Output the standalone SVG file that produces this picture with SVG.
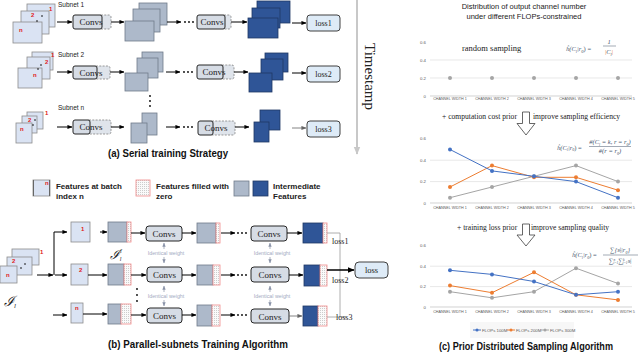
<svg xmlns="http://www.w3.org/2000/svg" width="640" height="354" viewBox="0 0 640 354">
<defs>
<marker id="ah" viewBox="0 0 6 6" refX="5.5" refY="3" markerWidth="5" markerHeight="5" orient="auto" markerUnits="userSpaceOnUse"><path d="M0,0.5 L6,3 L0,5.5z" fill="#000"/></marker>
<marker id="ahg" viewBox="0 0 6 6" refX="5.5" refY="3" markerWidth="5" markerHeight="5" orient="auto" markerUnits="userSpaceOnUse"><path d="M0,0.5 L6,3 L0,5.5z" fill="#666"/></marker>
<marker id="ahb" viewBox="0 0 6 6" refX="5.5" refY="3" markerWidth="7" markerHeight="7" orient="auto" markerUnits="userSpaceOnUse"><path d="M0,0.5 L6,3 L0,5.5z" fill="#000"/></marker>
<marker id="ahiw" viewBox="0 0 6 6" refX="5.5" refY="3" markerWidth="4" markerHeight="4" orient="auto" markerUnits="userSpaceOnUse"><path d="M0,0.5 L6,3 L0,5.5z" fill="#8a93a8"/></marker>
<marker id="aht" viewBox="0 0 6 6" refX="5.5" refY="3" markerWidth="8" markerHeight="8" orient="auto" markerUnits="userSpaceOnUse"><path d="M0,0.5 L6,3 L0,5.5z" fill="#c8c8c8"/></marker>
<pattern id="hatch" width="2" height="2" patternUnits="userSpaceOnUse"><rect width="2" height="2" fill="#fafafa"/><rect width="1" height="1" fill="#cdcdcd"/></pattern>
<style>
.in{fill:#dae3f3;stroke:#8c8c8c;stroke-width:0.8}
.gf{fill:#adb9ca;stroke:#6f7a8a;stroke-width:0.8}
.bf{fill:#2f5597;stroke:#1f3864;stroke-width:0.8}
.cv{fill:#d6dce5;stroke:#262626;stroke-width:1}
.cvd{fill:#dfe4eb;stroke:#808080;stroke-width:0.8;stroke-dasharray:2 1.3}
.ls{fill:#deebf7;stroke:#404040;stroke-width:1}
.zr{fill:url(#hatch);stroke:#f08a8a;stroke-width:0.8}
.ar{stroke:#000;stroke-width:1;fill:none;marker-end:url(#ah)}
.arg{stroke:#666;stroke-width:0.8;fill:none;marker-end:url(#ahg)}
.dot{fill:#000}
.rd{font-family:"Liberation Sans",Arial,sans-serif;font-size:6px;font-weight:bold;fill:#e02020}
.sr{font-family:"Liberation Serif","Times New Roman",serif;fill:#222}
.ss{font-family:"Liberation Sans",Arial,sans-serif;fill:#222}
.cap{font-family:"Liberation Sans",Arial,sans-serif;font-weight:bold;font-size:10px;fill:#111}
.lg{font-family:"Liberation Sans",Arial,sans-serif;font-weight:bold;font-size:8px;fill:#222}
.iw{font-family:"Liberation Sans",Arial,sans-serif;font-size:5.3px;fill:#a3abc2}
.ax{font-family:"Liberation Sans",Arial,sans-serif;font-size:4.3px;fill:#595959}
.cat{font-family:"Liberation Sans",Arial,sans-serif;font-size:3.7px;fill:#595959}
.fm{font-family:"Liberation Serif","Times New Roman",serif;font-style:italic;font-size:6.5px;fill:#44546a}
.gr{stroke:#d9d9d9;stroke-width:0.6}
.axl{stroke:#bfbfbf;stroke-width:0.7}
.sb{stroke:#4472c4;stroke-width:1;fill:none}
.so{stroke:#ed7d31;stroke-width:1;fill:none}
.sg{stroke:#a5a5a5;stroke-width:1;fill:none}
</style>
</defs>
<rect width="640" height="354" fill="#fff"/>

<!-- ===== (a) Serial training ===== -->
<g id="a-subnet1-input">
<rect class="in" x="27" y="4" width="28" height="23"/>
<rect class="in" x="21" y="11" width="28" height="23"/>
<rect class="in" x="13" y="22" width="29" height="21"/>
<text class="rd" x="49" y="11">1</text><text class="rd" x="31" y="17">2</text><text class="rd" x="19" y="32">n</text>
<circle class="dot" cx="42" cy="16" r="0.8"/><circle class="dot" cx="37" cy="21" r="0.8"/>
<text class="ss" x="58" y="7" font-size="6.5">Subnet 1</text>
</g>
<g id="a-subnet1-conv1"><rect class="cvd" x="99" y="15" width="12" height="14" rx="2"/><rect class="cv" x="73" y="15" width="29" height="14" rx="2"/><text class="sr" x="91" y="25" font-size="9" text-anchor="middle">Convs</text></g>
<g id="a-subnet1-feat"><rect class="gf" x="139" y="3" width="28" height="22"/><rect class="gf" x="133" y="9" width="27" height="23"/><rect class="gf" x="125" y="21" width="29" height="20"/></g>
<g id="a-subnet1-conv2"><rect class="cvd" x="222" y="15" width="9" height="14" rx="2"/><rect class="cv" x="197" y="15" width="28" height="14" rx="2"/><text class="sr" x="212" y="25" font-size="9" text-anchor="middle">Convs</text></g>
<g id="a-subnet1-out"><rect class="bf" x="257" y="1" width="33" height="22"/><rect class="bf" x="252" y="8" width="28" height="20"/><rect class="bf" x="248" y="18" width="30" height="20"/></g>
<g id="a-loss1"><rect class="ls" x="307" y="15" width="33" height="16" rx="3"/><text class="sr" x="323.5" y="26" font-size="8" text-anchor="middle">loss1</text></g>

<g id="a-subnet2-input">
<rect class="in" x="32" y="52" width="21" height="18"/>
<rect class="in" x="27" y="57" width="23" height="22"/>
<rect class="in" x="18" y="68" width="24" height="20"/>
<text class="rd" x="51" y="57">1</text><text class="rd" x="45" y="64">2</text><text class="rd" x="33" y="77">n</text>
<circle class="dot" cx="41" cy="65" r="0.8"/><circle class="dot" cx="38" cy="69" r="0.8"/>
<text class="ss" x="58" y="57" font-size="6.5">Subnet 2</text>
</g>
<g id="a-subnet2-conv1"><rect class="cvd" x="94" y="66" width="16" height="13" rx="2"/><rect class="cv" x="73" y="66" width="24" height="13" rx="2"/><text class="sr" x="91" y="75.5" font-size="9" text-anchor="middle">Convs</text></g>
<g id="a-subnet2-feat"><rect class="gf" x="142" y="52" width="21" height="20"/><rect class="gf" x="137" y="58" width="21" height="20"/><rect class="gf" x="125" y="73" width="23" height="18"/></g>
<g id="a-subnet2-conv2"><rect class="cvd" x="220" y="65" width="14" height="14" rx="2"/><rect class="cv" x="197" y="65" width="26" height="14" rx="2"/><text class="sr" x="214" y="75" font-size="9" text-anchor="middle">Convs</text></g>
<g id="a-subnet2-out"><rect class="bf" x="265" y="53" width="23" height="19"/><rect class="bf" x="261" y="59" width="22" height="21"/><rect class="bf" x="249" y="73" width="23" height="19"/></g>
<g id="a-loss2"><rect class="ls" x="307" y="66" width="33" height="16" rx="3"/><text class="sr" x="323.5" y="77" font-size="8" text-anchor="middle">loss2</text></g>

<g id="a-vdots"><circle class="dot" cx="150" cy="96" r="0.9"/><circle class="dot" cx="150" cy="101" r="0.9"/><circle class="dot" cx="150" cy="106" r="0.9"/></g>

<g id="a-subnetn-input">
<rect class="in" x="27" y="112" width="16" height="17"/>
<rect class="in" x="22" y="116" width="15" height="17"/>
<rect class="in" x="16" y="123" width="16" height="20"/>
<text class="rd" x="45" y="115">1</text><text class="rd" x="28" y="122">2</text><text class="rd" x="20" y="131">n</text>
<circle class="dot" cx="35" cy="120" r="0.8"/><circle class="dot" cx="33" cy="125" r="0.8"/>
<text class="ss" x="58" y="110" font-size="6.5">Subnet n</text>
</g>
<g id="a-subnetn-conv1"><rect class="cvd" x="87" y="120" width="24" height="14" rx="2"/><rect class="cv" x="73" y="120" width="17" height="14" rx="2"/><text class="sr" x="91" y="130" font-size="9" text-anchor="middle">Convs</text></g>
<g id="a-subnetn-feat"><rect class="gf" x="142" y="113" width="15" height="22"/><rect class="gf" x="131" y="123" width="16" height="20"/></g>
<g id="a-subnetn-conv2"><rect class="cvd" x="210" y="121" width="25" height="14" rx="2"/><rect class="cv" x="198" y="121" width="15" height="14" rx="2"/><text class="sr" x="216" y="131" font-size="9" text-anchor="middle">Convs</text></g>
<g id="a-subnetn-out"><rect class="bf" x="260" y="110" width="20" height="20"/><rect class="bf" x="254" y="122" width="15" height="20"/></g>
<g id="a-loss3"><rect class="ls" x="307" y="121" width="33" height="16" rx="3"/><text class="sr" x="323.5" y="132" font-size="8" text-anchor="middle">loss3</text></g>

<g id="a-timestamp">
<line x1="357" y1="0" x2="357" y2="154" stroke="#c8c8c8" stroke-width="2" marker-end="url(#aht)"/>
<text class="sr" transform="translate(365,43) rotate(90)" font-size="15" fill="#333">Timestamp</text>
</g>

<g id="a-connectors">
<line class="ar" x1="57" y1="22" x2="72" y2="22"/><line class="ar" x1="111" y1="22" x2="124" y2="22"/><line class="ar" x1="167" y1="22" x2="181" y2="22"/>
<line class="ar" x1="231" y1="22" x2="247" y2="22"/><line class="ar" x1="292" y1="23" x2="306" y2="23"/>
<line class="ar" x1="57" y1="72" x2="72" y2="72"/><line class="ar" x1="110" y1="72" x2="124" y2="72"/><line class="ar" x1="166" y1="72" x2="180" y2="72"/>
<line class="ar" x1="234" y1="72" x2="248" y2="72"/><line class="ar" x1="292" y1="73" x2="306" y2="73"/>
<line class="ar" x1="57" y1="127" x2="72" y2="127"/><line class="ar" x1="111" y1="127" x2="124" y2="127"/><line class="ar" x1="166" y1="127" x2="180" y2="127"/>
<line class="ar" x1="235" y1="127" x2="249" y2="127"/><line class="arg" x1="292" y1="128" x2="306" y2="128"/>
<g class="dot"><circle cx="185" cy="22" r="0.9"/><circle cx="189" cy="22" r="0.9"/><circle cx="193" cy="22" r="0.9"/>
<circle cx="184" cy="72" r="0.9"/><circle cx="188" cy="72" r="0.9"/><circle cx="192" cy="72" r="0.9"/>
<circle cx="184" cy="127" r="0.9"/><circle cx="188" cy="127" r="0.9"/><circle cx="192" cy="127" r="0.9"/></g>
</g>
<text class="cap" x="108" y="157" textLength="120" lengthAdjust="spacingAndGlyphs">(a) Serial training Strategy</text>

<!-- ===== legend ===== -->
<g id="legend">
<rect class="in" x="33" y="180" width="17" height="16"/><line x1="33.5" y1="180" x2="33.5" y2="196" stroke="#666" stroke-width="1"/><line x1="49.5" y1="180" x2="49.5" y2="196" stroke="#666" stroke-width="1"/>
<text class="rd" x="45" y="184.5" font-size="4">n</text>
<text class="lg" x="56" y="189" textLength="66" lengthAdjust="spacingAndGlyphs">Features at batch</text>
<text class="lg" x="56" y="199">index n</text>
<rect class="zr" x="136" y="180" width="14" height="16"/>
<text class="lg" x="156" y="189" textLength="73" lengthAdjust="spacingAndGlyphs">Features filled with</text>
<text class="lg" x="156" y="199">zero</text>
<rect class="gf" x="234" y="181" width="15" height="15"/><rect class="bf" x="253" y="181" width="15" height="15"/>
<text class="lg" x="273" y="189">Intermediate</text>
<text class="lg" x="273" y="199">Features</text>
</g>

<!-- ===== (b) Parallel subnets ===== -->
<g id="b-input">
<rect class="in" x="12" y="249" width="27" height="16"/>
<rect class="in" x="7" y="257" width="25" height="18"/>
<rect class="in" x="0" y="266" width="17" height="17"/>
<text class="rd" x="40" y="254">1</text><text class="rd" x="12" y="263">2</text><text class="rd" x="6" y="277">n</text>
<circle class="dot" cx="21" cy="268" r="0.8"/><circle class="dot" cx="25" cy="264" r="0.8"/>
<text class="sr" x="4" y="306" font-size="14" font-style="italic">ℐ<tspan font-size="7" dy="2">l</tspan></text>
</g>
<g id="b-batch1"><rect class="in" x="71" y="222" width="19" height="20"/><text class="rd" x="81" y="231">1</text></g>
<g id="b-batch2"><rect class="in" x="71" y="264" width="17" height="21"/><text class="rd" x="79" y="272">2</text></g>
<g id="b-batchn"><rect class="in" x="71" y="303" width="12" height="20"/><text class="rd" x="75" y="310">n</text></g>

<g id="b-pad1"><rect class="gf" x="108" y="222" width="19" height="20"/><rect class="zr" x="127" y="222" width="4" height="20"/></g>
<g id="b-pad2"><rect class="gf" x="108" y="264" width="16" height="21"/><rect class="zr" x="124" y="264" width="7" height="21"/></g>
<g id="b-padn"><rect class="gf" x="108" y="304" width="13" height="20"/><rect class="zr" x="121" y="304" width="10" height="20"/></g>
<text class="sr" x="110" y="259" font-size="13" font-style="italic">ℐ<tspan font-size="6" dy="-6">i</tspan><tspan font-size="6" dx="-2" dy="8">l</tspan></text>

<g id="b-conv1a"><rect class="cv" x="146" y="226" width="36" height="15" rx="3"/><text class="sr" x="164" y="237" font-size="9" text-anchor="middle">Convs</text></g>
<g id="b-conv2a"><rect class="cv" x="147" y="267" width="35" height="15" rx="3"/><text class="sr" x="164.5" y="278" font-size="9" text-anchor="middle">Convs</text></g>
<g id="b-convna"><rect class="cv" x="147" y="308" width="35" height="15" rx="3"/><text class="sr" x="164.5" y="319" font-size="9" text-anchor="middle">Convs</text></g>

<g id="b-mid1"><rect class="gf" x="197" y="223" width="19" height="20"/><rect class="zr" x="216" y="223" width="4" height="20"/></g>
<g id="b-mid2"><rect class="gf" x="197" y="265" width="16" height="20"/><rect class="zr" x="213" y="265" width="7" height="20"/></g>
<g id="b-midn"><rect class="gf" x="197" y="305" width="15" height="21"/><rect class="zr" x="212" y="305" width="8" height="21"/></g>

<g id="b-conv1b"><rect class="cv" x="251" y="226" width="36" height="15" rx="3"/><text class="sr" x="269" y="237" font-size="9" text-anchor="middle">Convs</text></g>
<g id="b-conv2b"><rect class="cv" x="251" y="267" width="38" height="15" rx="3"/><text class="sr" x="270" y="278" font-size="9" text-anchor="middle">Convs</text></g>
<g id="b-convnb"><rect class="cv" x="251" y="309" width="38" height="14" rx="3"/><text class="sr" x="270" y="319.5" font-size="9" text-anchor="middle">Convs</text></g>

<g id="b-out1"><rect class="bf" x="303" y="223" width="20" height="20"/><rect class="zr" x="323" y="223" width="4" height="20"/></g>
<g id="b-out2"><rect class="bf" x="304" y="265" width="16" height="21"/><rect class="zr" x="320" y="265" width="7" height="21"/></g>
<g id="b-outn"><rect class="bf" x="303" y="306" width="15" height="20"/><rect class="zr" x="318" y="306" width="9" height="20"/></g>

<g id="b-loss"><rect class="ls" x="355" y="262" width="33" height="16" rx="4" stroke="#555"/><text class="sr" x="371.5" y="273" font-size="8.5" text-anchor="middle">loss</text></g>

<g id="b-identical">
<text class="iw" x="166" y="255" text-anchor="middle">Identical weight</text>
<text class="iw" x="272" y="255" text-anchor="middle">Identical weight</text>
<text class="iw" x="166" y="298" text-anchor="middle">Identical weight</text>
<text class="iw" x="272" y="298" text-anchor="middle">Identical weight</text>
<g stroke="#8a93a8" stroke-width="0.7" marker-end="url(#ahiw)">
<line x1="164" y1="249" x2="164" y2="243"/><line x1="164" y1="257" x2="164" y2="263"/>
<line x1="270" y1="249" x2="270" y2="243"/><line x1="270" y1="257" x2="270" y2="263"/>
<line x1="164" y1="292" x2="164" y2="286"/><line x1="164" y1="300" x2="164" y2="306"/>
<line x1="270" y1="292" x2="270" y2="286"/><line x1="270" y1="300" x2="270" y2="306"/>
</g>
</g>
<g id="b-vdots"><circle class="dot" cx="137" cy="289" r="0.9"/><circle class="dot" cx="137" cy="295" r="0.9"/><circle class="dot" cx="137" cy="301" r="0.9"/></g>

<g id="b-connectors">
<line class="ar" x1="37" y1="275" x2="53" y2="275"/>
<polyline class="ar" points="54,275 54,232 67,232"/>
<line class="ar" x1="55" y1="275" x2="67" y2="275"/>
<line class="ar" x1="53" y1="315" x2="67" y2="315"/>
<line class="ar" x1="100" y1="232" x2="107" y2="232"/>
<line class="ar" x1="88" y1="275" x2="107" y2="275"/>
<line class="ar" x1="83" y1="314" x2="107" y2="314"/>
<line class="ar" x1="131" y1="233" x2="145" y2="233"/><line class="ar" x1="131" y1="275" x2="146" y2="275"/><line class="ar" x1="131" y1="315" x2="146" y2="315"/>
<line class="ar" x1="182" y1="233" x2="196" y2="233"/><line class="ar" x1="182" y1="275" x2="196" y2="275"/><line class="ar" x1="182" y1="315" x2="196" y2="315"/>
<line class="ar" x1="221" y1="233" x2="235" y2="233"/><line class="ar" x1="221" y1="275" x2="235" y2="275"/><line class="ar" x1="221" y1="315" x2="235" y2="315"/>
<g class="dot"><circle cx="238" cy="233" r="0.9"/><circle cx="242" cy="233" r="0.9"/><circle cx="246" cy="233" r="0.9"/>
<circle cx="238" cy="275" r="0.9"/><circle cx="242" cy="275" r="0.9"/><circle cx="246" cy="275" r="0.9"/>
<circle cx="238" cy="315" r="0.9"/><circle cx="242" cy="315" r="0.9"/><circle cx="246" cy="315" r="0.9"/></g>
<line class="ar" x1="287" y1="233" x2="302" y2="233"/><line class="ar" x1="289" y1="275" x2="303" y2="275"/><line class="arg" x1="289" y1="316" x2="302" y2="316"/>
<polyline points="327,233 340,233 340,317 327,317" fill="none" stroke="#999" stroke-width="0.8"/>
<line x1="340" y1="317" x2="346" y2="317" stroke="#999" stroke-width="0.8"/>
<line x1="327" y1="270" x2="354" y2="270" stroke="#000" stroke-width="1.5" marker-end="url(#ahb)"/>
</g>
<text class="sr" x="332" y="244" font-size="8">loss1</text>
<text class="sr" x="332" y="283" font-size="8">loss2</text>
<text class="sr" x="336" y="320" font-size="8" fill="#555">loss3</text>
<text class="cap" x="108" y="348" textLength="180" lengthAdjust="spacingAndGlyphs">(b) Parallel-subnets Training Algorithm</text>

<!-- ===== (c) charts ===== -->
<g id="c-title">
<text class="ss" x="524" y="9" font-size="7.5" text-anchor="middle" fill="#404040">Distribution of output channel number</text>
<text class="ss" x="524" y="19" font-size="7.5" text-anchor="middle" fill="#404040">under different FLOPs-constrained</text>
</g>

<g id="c-chart1">
<line class="gr" x1="430" y1="60" x2="632" y2="60"/><line class="gr" x1="430" y1="78" x2="632" y2="78"/><line class="axl" x1="430" y1="96" x2="632" y2="96"/>
<text class="ax" x="426" y="43.5" text-anchor="end">0.6</text><text class="ax" x="426" y="61.5" text-anchor="end">0.4</text><text class="ax" x="426" y="79.5" text-anchor="end">0.2</text><text class="ax" x="426" y="97.5" text-anchor="end">0</text>
<g fill="#a5a5a5"><circle cx="450" cy="78" r="2"/><circle cx="492" cy="78" r="2"/><circle cx="534" cy="78" r="2"/><circle cx="576" cy="78" r="2"/><circle cx="618" cy="78" r="2"/></g>
<g class="cat" text-anchor="middle"><text x="450" y="100">CHANNEL WIDTH 1</text><text x="492" y="100">CHANNEL WIDTH 2</text><text x="534" y="100">CHANNEL WIDTH 3</text><text x="576" y="100">CHANNEL WIDTH 4</text><text x="618" y="100">CHANNEL WIDTH 5</text></g>
<text class="sr" x="462" y="51" font-size="8.5" fill="#333">random sampling</text>
<text class="fm" x="566" y="51">ĥ(C<tspan font-size="4.5" dy="1.5">l</tspan><tspan dy="-1.5">|r</tspan><tspan font-size="4.5" dy="1.5">0</tspan><tspan dy="-1.5" font-style="normal">) =</tspan></text>
<text class="fm" x="609" y="44" text-anchor="middle" font-style="normal">1</text>
<line x1="603" y1="46" x2="616" y2="46" stroke="#44546a" stroke-width="0.5"/>
<text class="fm" x="609" y="54" text-anchor="middle"><tspan fill="#ed7d31" font-style="normal">|</tspan>C<tspan font-size="4.5" dy="1.5">l</tspan><tspan dy="-1.5" fill="#ed7d31" font-style="normal">|</tspan></text>
</g>

<g id="c-step1">
<text class="sr" x="442" y="119" font-size="7.6" fill="#333">+ computation cost prior</text>
<path d="M522.5,112 h7 v11.5 h5.5 l-9,11.5 l-9,-11.5 h5.5 z" fill="#fff" stroke="#404040" stroke-width="0.8"/>
<text class="sr" x="533" y="119" font-size="7.6" fill="#333">improve sampling efficiency</text>
</g>

<g id="c-chart2">
<line class="gr" x1="430" y1="160.2" x2="632" y2="160.2"/><line class="gr" x1="430" y1="181.6" x2="632" y2="181.6"/><line class="axl" x1="430" y1="203" x2="632" y2="203"/>
<text class="ax" x="426" y="140.3" text-anchor="end">0.6</text><text class="ax" x="426" y="161.7" text-anchor="end">0.4</text><text class="ax" x="426" y="183.1" text-anchor="end">0.2</text><text class="ax" x="426" y="204.5" text-anchor="end">0</text>
<polyline class="sg" points="450,197.7 492,187 534,176.3 576,165.6 618,181.6"/>
<polyline class="so" points="450,187 492,165.6 534,177.3 576,177.3 618,190.2"/>
<polyline class="sb" points="450,149.5 492,170.9 534,176.3 576,181.6 618,197.7"/>
<g fill="#a5a5a5"><circle cx="450" cy="197.7" r="2"/><circle cx="492" cy="187" r="2"/><circle cx="534" cy="176.3" r="2"/><circle cx="576" cy="165.6" r="2"/><circle cx="618" cy="181.6" r="2"/></g>
<g fill="#ed7d31"><circle cx="450" cy="187" r="2"/><circle cx="492" cy="165.6" r="2"/><circle cx="534" cy="177.3" r="2"/><circle cx="576" cy="177.3" r="2"/><circle cx="618" cy="190.2" r="2"/></g>
<g fill="#4472c4"><circle cx="450" cy="149.5" r="2"/><circle cx="492" cy="170.9" r="2"/><circle cx="534" cy="176.3" r="2"/><circle cx="576" cy="181.6" r="2"/><circle cx="618" cy="197.7" r="2"/></g>
<g class="cat" text-anchor="middle"><text x="450" y="209">CHANNEL WIDTH 1</text><text x="492" y="209">CHANNEL WIDTH 2</text><text x="534" y="209">CHANNEL WIDTH 3</text><text x="576" y="209">CHANNEL WIDTH 4</text><text x="618" y="209">CHANNEL WIDTH 5</text></g>
<text class="fm" x="557" y="149.5" font-size="6">ĥ(C<tspan font-size="4" dy="1.5">l</tspan><tspan dy="-1.5">|r</tspan><tspan font-size="4" dy="1.5">0</tspan><tspan dy="-1.5" font-style="normal">) =</tspan></text>
<text class="fm" x="610" y="144" font-size="6" text-anchor="middle">#(C<tspan font-size="4" dy="1.5">l</tspan><tspan dy="-1.5"> = k, r = r</tspan><tspan font-size="4" dy="1.5">0</tspan><tspan dy="-1.5">)</tspan></text>
<line x1="589" y1="146.5" x2="631" y2="146.5" stroke="#44546a" stroke-width="0.5"/>
<text class="fm" x="610" y="153" font-size="6" text-anchor="middle">#(r = r<tspan font-size="4" dy="1.5">0</tspan><tspan dy="-1.5">)</tspan></text>
</g>

<g id="c-step2">
<text class="sr" x="457" y="230" font-size="7.6" fill="#333">+ training loss prior</text>
<path d="M522.5,224 h7 v11 h5.5 l-9,11 l-9,-11 h5.5 z" fill="#fff" stroke="#404040" stroke-width="0.8"/>
<text class="sr" x="531" y="230" font-size="7.6" fill="#333">improve sampling quality</text>
</g>

<g id="c-chart3">
<line class="gr" x1="430" y1="266.2" x2="632" y2="266.2"/><line class="gr" x1="430" y1="286.6" x2="632" y2="286.6"/><line class="axl" x1="430" y1="307" x2="632" y2="307"/>
<text class="ax" x="426" y="247.3" text-anchor="end">0.6</text><text class="ax" x="426" y="267.7" text-anchor="end">0.4</text><text class="ax" x="426" y="288.1" text-anchor="end">0.2</text><text class="ax" x="426" y="308.5" text-anchor="end">0</text>
<polyline class="sg" points="450,291.7 492,297.8 534,291.7 576,268.2 618,283.5"/>
<polyline class="so" points="450,285.6 492,292.7 534,272.3 576,294.8 618,299.9"/>
<polyline class="sb" points="450,270.3 492,274.4 534,281.5 576,294.8 618,291.7"/>
<g fill="#a5a5a5"><circle cx="450" cy="291.7" r="2"/><circle cx="492" cy="297.8" r="2"/><circle cx="534" cy="291.7" r="2"/><circle cx="576" cy="268.2" r="2"/><circle cx="618" cy="283.5" r="2"/></g>
<g fill="#ed7d31"><circle cx="450" cy="285.6" r="2"/><circle cx="492" cy="292.7" r="2"/><circle cx="534" cy="272.3" r="2"/><circle cx="576" cy="294.8" r="2"/><circle cx="618" cy="299.9" r="2"/></g>
<g fill="#4472c4"><circle cx="450" cy="270.3" r="2"/><circle cx="492" cy="274.4" r="2"/><circle cx="534" cy="281.5" r="2"/><circle cx="576" cy="294.8" r="2"/><circle cx="618" cy="291.7" r="2"/></g>
<g class="cat" text-anchor="middle"><text x="450" y="312.5">CHANNEL WIDTH 1</text><text x="492" y="312.5">CHANNEL WIDTH 2</text><text x="534" y="312.5">CHANNEL WIDTH 3</text><text x="576" y="312.5">CHANNEL WIDTH 4</text><text x="618" y="312.5">CHANNEL WIDTH 5</text></g>
<text class="fm" x="572" y="257" font-size="6">ĥ(C<tspan font-size="4" dy="1.5">l</tspan><tspan dy="-1.5">|r</tspan><tspan font-size="4" dy="1.5">0</tspan><tspan dy="-1.5" font-style="normal">) =</tspan></text>
<text class="fm" x="620" y="252" font-size="6" text-anchor="middle"><tspan font-style="normal">∑</tspan>{s<tspan font-size="4" dy="-2">j</tspan><tspan font-size="4" dx="-1" dy="3">l</tspan><tspan dy="-1">|r</tspan><tspan font-size="4" dy="1.5">0</tspan><tspan dy="-1.5">}</tspan></text>
<line x1="603" y1="255" x2="638" y2="255" stroke="#44546a" stroke-width="0.5"/>
<text class="fm" x="620" y="263" font-size="6" text-anchor="middle"><tspan font-style="normal">∑</tspan><tspan font-size="3.5" dy="-2">n</tspan><tspan font-size="3.5" dx="-2" dy="3">i=1</tspan><tspan font-style="normal" dy="-1">∑</tspan><tspan font-size="3.5" dy="-2">k</tspan><tspan font-size="3.5" dx="-2" dy="3">j=1</tspan><tspan dy="-1">s</tspan><tspan font-size="3.5" dy="-2">j</tspan><tspan font-size="3.5" dx="-1" dy="3">i</tspan></text>
</g>

<g id="c-legend">
<rect x="470" y="322" width="104" height="16" fill="#f7f7f7"/>
<line x1="473" y1="330" x2="481" y2="330" class="sb"/><circle cx="477" cy="330" r="1.5" fill="#4472c4"/>
<text class="ax" x="482" y="331.5" font-size="4.2">FLOPs 100M</text>
<line x1="507" y1="330" x2="515" y2="330" class="so"/><circle cx="511" cy="330" r="1.5" fill="#ed7d31"/>
<text class="ax" x="516" y="331.5" font-size="4.2">FLOPs 200M</text>
<line x1="541" y1="330" x2="549" y2="330" class="sg"/><circle cx="545" cy="330" r="1.5" fill="#a5a5a5"/>
<text class="ax" x="550" y="331.5" font-size="4.2">FLOPs 300M</text>
</g>
<text class="cap" x="439" y="350" textLength="174" lengthAdjust="spacingAndGlyphs">(c)  Prior Distributed Sampling Algorithm</text>
</svg>
